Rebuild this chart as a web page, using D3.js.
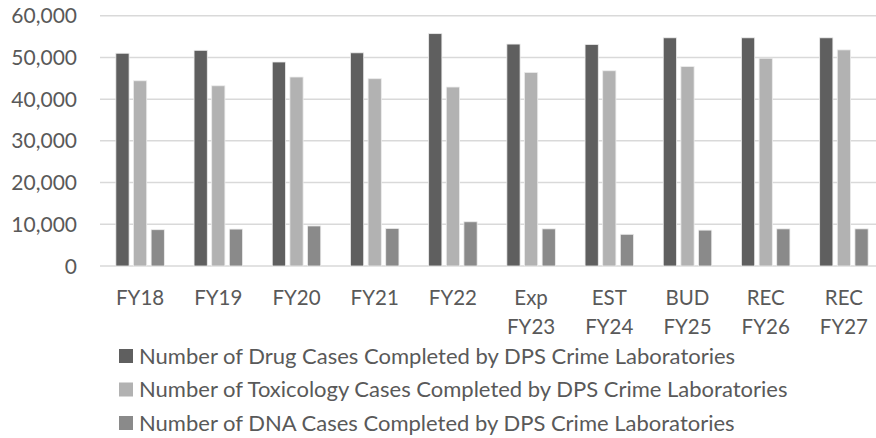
<!DOCTYPE html>
<html lang="en">
  <head>
    <meta charset="UTF-8" />
    <script src="https://cdn.jsdelivr.net/npm/d3@7/dist/d3.min.js"></script>
    <style>
      body {
        margin: 0;
        background: #fff;
        font-family: Lato, "Open Sans", sans-serif;
      }
      text {
        fill: #595959;
      }
    </style>
  </head>
  <body>
    <div class="canvas"></div>
    <script>
      const categories = [
        ["FY18"], ["FY19"], ["FY20"], ["FY21"], ["FY22"],
        ["Exp", "FY23"], ["EST", "FY24"], ["BUD", "FY25"], ["REC", "FY26"], ["REC", "FY27"],
      ];
      const seriesNames = [
        "Number of Drug Cases Completed by DPS Crime Laboratories",
        "Number of Toxicology Cases Completed by DPS Crime Laboratories",
        "Number of DNA Cases Completed by DPS Crime Laboratories",
      ];
      const drugCases = [51000, 51700, 48900, 51100, 55700, 53200, 53100, 54700, 54700, 54700];
      const toxCases = [44400, 43200, 45300, 44900, 42900, 46400, 46800, 47800, 49800, 51800];
      const dnaCases = [8700, 8850, 9600, 9000, 10600, 8900, 7600, 8600, 8900, 8900];
      const yTicks = [0, 10000, 20000, 30000, 40000, 50000, 60000];
      const colors = ["#5f5f5f", "#b2b2b2", "#8a8a8a"];

      const width = 876;
      const height = 438;
      const margin = { top: 15.7, right: -7, bottom: 172, left: 101 };

      const svg = d3
        .select(".canvas")
        .append("svg")
        .attr("width", width)
        .attr("height", height);

      const x0 = d3
        .scaleBand()
        .domain(d3.range(categories.length))
        .range([margin.left, width - margin.right])
        .paddingInner(0.38)
        .paddingOuter(0.19);
      const x1 = d3
        .scaleBand()
        .domain(d3.range(3))
        .range([0, x0.bandwidth()])
        .paddingInner(0.25);
      const y = d3
        .scaleLinear()
        .domain([0, 60000])
        .range([height - margin.bottom, margin.top]);

      // gridlines
      svg
        .append("g")
        .selectAll("line")
        .data(yTicks)
        .join("line")
        .attr("x1", 100)
        .attr("x2", width)
        .attr("y1", (d) => y(d))
        .attr("y2", (d) => y(d))
        .attr("stroke", "#d9d9d9")
        .attr("stroke-width", 1.5);

      // y labels
      svg
        .append("g")
        .selectAll("text")
        .data(yTicks)
        .join("text")
        .attr("x", 77)
        .attr("y", (d) => y(d))
        .attr("dy", "0.36em")
        .attr("text-anchor", "end")
        .style("font-size", "21px")
        .text((d) => d3.format(",")(d));

      const rows = categories.map((c, i) => [drugCases[i], toxCases[i], dnaCases[i]]);

      svg
        .append("g")
        .selectAll("g")
        .data(rows)
        .join("g")
        .attr("transform", (d, i) => `translate(${x0(i)},0)`)
        .selectAll("rect")
        .data((d) => d)
        .join("rect")
        .attr("x", (d, j) => x1(j))
        .attr("width", x1.bandwidth())
        .attr("y", (d) => y(d))
        .attr("height", (d) => y(0) - y(d))
        .attr("fill", (d, j) => colors[j])
        .attr("stroke", "#ececec")
        .attr("stroke-width", 0.8);

      // x labels
      const xl = svg
        .append("g")
        .selectAll("text")
        .data(categories)
        .join("text")
        .attr("x", (d, i) => x0(i) + x0.bandwidth() / 2)
        .attr("y", 298)
        .attr("text-anchor", "middle")
        .style("font-size", "20.5px");
      xl.selectAll("tspan")
        .data((d) => d)
        .join("tspan")
        .attr("x", function () {
          return this.parentNode.getAttribute("x");
        })
        .attr("dy", (d, k) => (k === 0 ? "0.36em" : "28.5px"))
        .text((d) => d);

      // legend
      const legend = svg
        .append("g")
        .selectAll("g")
        .data(seriesNames)
        .join("g")
        .attr("transform", (d, i) => `translate(119,${356 + i * 33.5})`);
      legend
        .append("rect")
        .attr("x", 0)
        .attr("y", -7)
        .attr("width", 14)
        .attr("height", 14)
        .attr("fill", (d, i) => colors[i]);
      legend
        .append("text")
        .attr("x", 20)
        .attr("dy", "0.36em")
        .style("font-size", "22px")
        .text((d) => d);
    </script>
  </body>
</html>
